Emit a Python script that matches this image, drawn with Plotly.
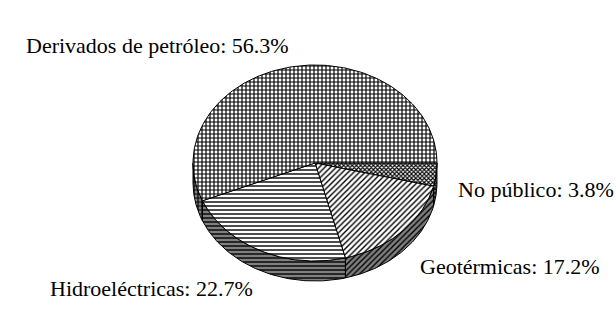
import numpy as np
import plotly.graph_objects as go

# ---- data ----
labels = ["Derivados de petróleo", "Hidroeléctricas", "Geotérmicas", "No público"]
values = [56.3, 22.7, 17.2, 3.8]
patterns = ["+", "-", "/", "x"]
pattern_sizes = [4, 4, 4, 3]
pattern_solidity = [0.5, 0.35, 0.35, 0.6]

# ---- geometry (pixel space) ----
W, H = 616, 327
cx, cy = 315, 163
rx, ry = 122, 98
depth = 20
GRAY = "#808080"
FONT = "Liberation Serif"

fig = go.Figure()

def ell(t, dy=0):
    return cx + rx * np.cos(t), cy + ry * np.sin(t) + dy

total = sum(values)
order = [3, 2, 1, 0]
start = 0.0
spans = {}
for i in order:
    sweep = values[i] / total * 2 * np.pi
    spans[i] = (start, start + sweep)
    start += sweep

# side walls (front half only)
for i in order:
    a0, a1 = spans[i]
    b0, b1 = max(a0, 0), min(a1, np.pi)
    if b1 <= b0:
        continue
    t = np.linspace(b0, b1, 80)
    xt, yt = ell(t)
    xb, yb = ell(t[::-1], depth)
    xs = np.concatenate([xt, xb, xt[:1]])
    ys = np.concatenate([yt, yb, yt[:1]])
    fig.add_trace(go.Scatter(
        x=xs, y=ys, mode="lines", fill="toself",
        fillcolor=GRAY,
        fillpattern=dict(shape=patterns[i], size=pattern_sizes[i], solidity=pattern_solidity[i],
                         fgcolor="black", bgcolor=GRAY, fillmode="replace"),
        line=dict(color="black", width=1), hoverinfo="skip", showlegend=False))

# top face slices
for i in order:
    a0, a1 = spans[i]
    t = np.linspace(a0, a1, 160)
    xt, yt = ell(t)
    xs = np.concatenate([[cx], xt, [cx]])
    ys = np.concatenate([[cy], yt, [cy]])
    fig.add_trace(go.Scatter(
        x=xs, y=ys, mode="lines", fill="toself",
        fillcolor="white",
        fillpattern=dict(shape=patterns[i], size=pattern_sizes[i], solidity=pattern_solidity[i],
                         fgcolor="black", bgcolor="white", fillmode="replace"),
        line=dict(color="black", width=1), hoverinfo="skip", showlegend=False))

# labels
label_pos = {0: (24, 45), 3: (456, 189), 2: (418, 266), 1: (48, 288)}
for i, (lx, ly) in label_pos.items():
    fig.add_annotation(x=lx, y=ly, xref="x", yref="y", text=f"{labels[i]}: {values[i]}%",
                       showarrow=False, xanchor="left", yanchor="middle",
                       font=dict(family=FONT, size=22, color="black"))

fig.update_layout(
    width=W, height=H, margin=dict(l=0, r=0, t=0, b=0),
    paper_bgcolor="white", plot_bgcolor="white",
    font=dict(family=FONT),
    xaxis=dict(range=[0, W], visible=False, fixedrange=True),
    yaxis=dict(range=[H, 0], visible=False, fixedrange=True),
)
fig.write_html("out.html")
